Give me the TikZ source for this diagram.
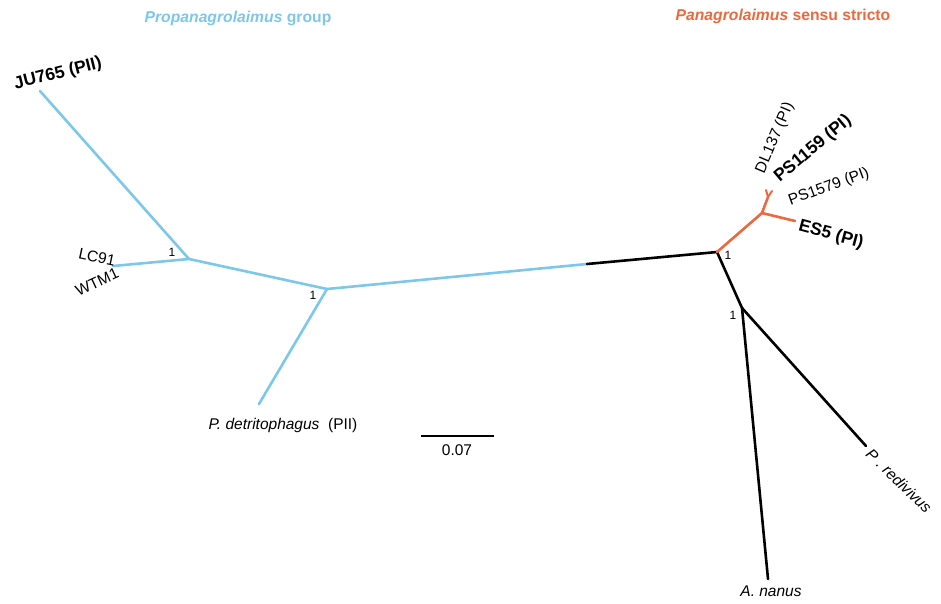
\documentclass[tikz,border=0pt]{standalone}
\usepackage{fontspec}
\setmainfont{Liberation Sans}
\definecolor{propablue}{RGB}{124,199,234}
\definecolor{panaorange}{RGB}{236,104,62}
\tikzset{
  branch/.style={line width=2.6pt, line cap=round, line join=round},
  bluebranch/.style={branch, draw=propablue},
  blackbranch/.style={branch, draw=black},
  orangebranch/.style={branch, draw=panaorange},
  tiplabel/.style={inner sep=0pt, font=\fontsize{15.5}{18}\selectfont},
  boldtip/.style={inner sep=0pt, font=\fontsize{17.5}{20}\selectfont\bfseries},
  support/.style={inner sep=0pt, font=\fontsize{12}{14}\selectfont},
  grouptitle/.style={inner sep=0pt, font=\fontsize{15.7}{18}\selectfont\bfseries}
}
\begin{document}
\begin{tikzpicture}[x=1pt,y=-1pt]
\useasboundingbox (0,0) rectangle (941,603);

% internal nodes of the unrooted tree
\coordinate (nA) at (189,259);
\coordinate (nB) at (327,289);
\coordinate (nC) at (717,252);
\coordinate (nD) at (762,213);
\coordinate (nE) at (768,197);
\coordinate (nF) at (742,308);
\coordinate (colorswitch) at (587,264);

% tips
\coordinate (tJU) at (40,91);
\coordinate (tLC) at (113,266);
\coordinate (tPdet) at (259,404);
\coordinate (tES) at (795,221);
\coordinate (tDL) at (766,190);
\coordinate (tPS) at (772,191);
\coordinate (tAn) at (768,579);
\coordinate (tPr) at (866,446);

% Propanagrolaimus group branches
\draw[bluebranch] (tJU) -- (nA);
\draw[bluebranch] (tLC) -- (nA);
\draw[bluebranch] (nA) -- (nB);
\draw[bluebranch] (nB) -- (tPdet);
\draw[bluebranch] (nB) -- (colorswitch);
% backbone
\draw[blackbranch] (colorswitch) -- (nC);
\draw[blackbranch] (nC) -- (nF);
\draw[blackbranch] (nF) -- (tAn);
\draw[blackbranch] (nF) -- (tPr);
% Panagrolaimus sensu stricto branches
\draw[orangebranch] (nC) -- (nD);
\draw[orangebranch] (nD) -- (tES);
\draw[orangebranch] (nD) -- (nE);
\draw[orangebranch, line width=2pt] (nE) -- (tDL);
\draw[orangebranch, line width=2pt] (nE) -- (tPS);

% support values
\node[support] (sA) at (172,252) {1};
\node[support] (sB) at (313,295) {1};
\node[support] (sC) at (728,255) {1};
\node[support] (sF) at (733,315) {1};

% tip labels
\node[boldtip, rotate=14] (lJU) at (58,74) {JU765 (PII)};
\node[tiplabel, rotate=-12] (lLC) at (97,257) {LC91};
\node[tiplabel, rotate=25] (lWT) at (97,282) {WTM1};
\node[tiplabel] (lPdet) at (283,425) {\textit{P. detritophagus}\ \ (PII)};
\node[tiplabel, rotate=67] (lDL) at (775,138) {DL137 (PI)};
\node[boldtip, rotate=40] (lPS1159) at (813,149) {PS1159 (PI)};
\node[tiplabel, rotate=20] (lPS1579) at (829,187) {PS1579 (PI)};
\node[boldtip, rotate=-15] (lES) at (831,235) {ES5 (PI)};
\node[tiplabel, rotate=-44] (lPr) at (899,481) {\textit{P . redivivus}};
\node[tiplabel] (lAn) at (771,591) {\textit{A. nanus}};

% scale bar
\coordinate (sbL) at (421,436);
\coordinate (sbR) at (494,436);
\draw[line width=1.2pt] (sbL) -- (sbR);
\node[tiplabel] (sbText) at (457,450) {0.07};

% group titles
\node[grouptitle, text=propablue] (gProp) at (238,18) {\textit{Propanagrolaimus} group};
\node[grouptitle, text=panaorange] (gPana) at (783,16) {\textit{Panagrolaimus} sensu stricto};
\end{tikzpicture}
\end{document}
